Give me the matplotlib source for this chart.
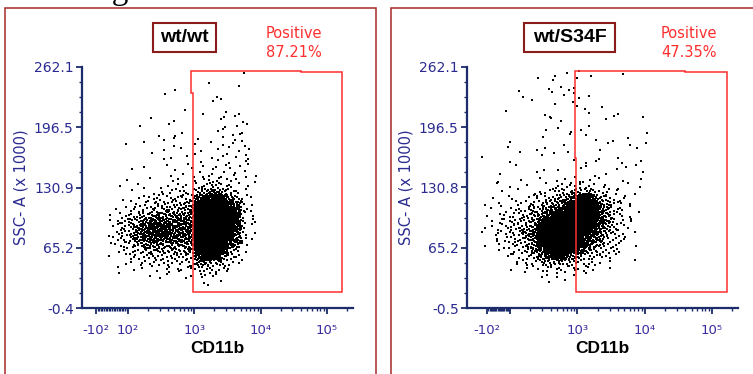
import numpy as np
import matplotlib
matplotlib.use("Agg")
import matplotlib.pyplot as plt
from matplotlib.patches import Rectangle, Polygon

W, H = 753, 374

samples = ["wt/wt", "wt/S34F"]
positive_pct = ["87.21%", "47.35%"]
ssc_min = [-0.4, -0.5]
ssc_max = 262.1
ssc_tick_labels = [["-0.4", "65.2", "130.9", "196.5", "262.1"],
                   ["-0.5", "65.2", "130.8", "196.5", "262.1"]]
cd11b_lim = [(-163, 247700), (-200, 244000)]
cd11b_linscale = [0.218, 0.154]
cd11b_ticks = [-100, 100, 1000, 10000, 100000]
cd11b_tick_labels = [["-10²", "10²", "10³", "10⁴", "10⁵"],
                     ["-10²", "", "10³", "10⁴", "10⁵"]]

# "Positive" gates as (CD11b, SSC) vertices
gate_wt_x = [901, 40400, 40400, 168800, 168800, 966, 966, 901]
gate_wt_y = [257.7, 257.7, 256.7, 256.7, 17.0, 17.0, 233.8, 233.8]
gate_s34f_x = [933, 39500, 39500, 167600, 167600, 966, 966, 933]
gate_s34f_y = [257.7, 257.7, 256.7, 256.7, 17.0, 17.0, 163.3, 163.3]

# dot density: one digit per cell (0 empty .. 9 solid),
# rows run from SSC 260 down to 0 in steps of 6.5
ssc_edges = np.linspace(260, 0, 41)
cd11b_edges_wt = [-23, 18, 59, 100, 126, 158, 200, 251, 316, 398, 501, 631,
                  794, 1000, 1259, 1585, 1995, 2512, 3162, 3981, 5012, 6310,
                  7943, 10000, 12589, 15849, 19953]
cd11b_edges_s34f = [-132, -74, -16, 42, 100, 126, 158, 200, 251, 316, 398,
                    501, 631, 794, 1000, 1259, 1585, 1995, 2512, 3162, 3981,
                    5012, 6310, 7943, 10000, 12589, 15849]
events_per_level = [0, 1, 2, 3, 5, 8, 12, 18, 28, 45]

density_wt = [
    "00000000000000000000100000",
    "00000000000000000000000000",
    "00000000000000010001000000",
    "00000000001000000000000000",
    "00000000100000001000000000",
    "00000000000000010100000000",
    "00000000000100000000000000",
    "00000000000000100102000000",
    "00000010010000000200100000",
    "00001000010000000101100000",
    "00000000000100001101100000",
    "00000001111001000111000000",
    "00100100010001010110200000",
    "00000000101000101011010000",
    "00000010010101010201100000",
    "00000000100100101010110000",
    "00010100101010111111010000",
    "00000000010101020111101000",
    "00100010011011222211101000",
    "01001001011202333221010000",
    "00010110122223455432100000",
    "00101122223335788753210000",
    "00012223333448999975210000",
    "01122333444459999987310000",
    "11233455555559999987310000",
    "12344566666669999997311000",
    "12345677766669999987210000",
    "12345677766669999986201000",
    "12345666666569999976210000",
    "12234555555559999865200000",
    "01223344444448999742100000",
    "10122233333336887532100000",
    "00111222222234544321000000",
    "01010111112223332210000000",
    "01000010110111221000000000",
    "00000001000000101000000000",
    "00000000000000010000000000",
    "00000000000000000000000000",
    "00000000000000000000000000",
    "00000000000000000000000000",
]

density_s34f = [
    "00000000000010100000100000",
    "00000000102001001000000000",
    "00000000000100000000000000",
    "00000100011011000000000000",
    "00000100000011110000000000",
    "00000001001001000000000000",
    "00000000000001010100000000",
    "00010000020000010002000000",
    "00000000001100000010000100",
    "00000000000100010000000000",
    "00000000010011100000000010",
    "00000000100000011000010000",
    "00010000000010000011010010",
    "00010101010010000100001000",
    "10000000101000000001000000",
    "00001000000001011100100100",
    "00001000010000110001011000",
    "00100001000100001010000100",
    "00100100101011110100100100",
    "01001010011222221110010100",
    "00100101122334443221101000",
    "01011012233456886432110000",
    "10101223345568998543210000",
    "01112234456789998643210100",
    "10122334568899998653210000",
    "01223345689999998653211000",
    "11223445799999997643210000",
    "11223456899999987543201000",
    "01123346899999876532210000",
    "10122345799999865432101000",
    "00112235689997654322100000",
    "00011223567765433221001000",
    "00001122344443322110000000",
    "00001011222222211010000000",
    "00000010111101010000000000",
    "00000000010010000000000000",
    "00000000000000000000000000",
    "00000000000000000000000000",
    "00000000000000000000000000",
    "00000000000000000000000000",
]

AXIS = "#1b2b6b"
LABEL = "#2a2a90"
GATE = "#ff2e2e"
FRAME = "#a52a2a"


def halton(i, base):
    f, r = 1.0, 0.0
    while i > 0:
        f /= base
        r += f * (i % base)
        i //= base
    return r


def events(ax, density, xedges, yedges):
    # spread each cell's events evenly over the cell, in axis (scaled) space
    tr = ax.xaxis.get_transform()
    xe = tr.transform(np.asarray(xedges, float))
    xs, ys = [], []
    idx = 0
    for r, row in enumerate(density):
        for c, ch in enumerate(row):
            for k in range(events_per_level[int(ch)]):
                idx += 1
                u, v = halton(idx, 2), halton(idx, 3)
                xs.append(xe[c] + u * (xe[c + 1] - xe[c]))
                ys.append(yedges[r + 1] + v * (yedges[r] - yedges[r + 1]))
    return tr.inverted().transform(np.array(xs)), np.array(ys)


def px_box(x0, x1, ytop, ybot):
    return [x0 / W, 1 - ybot / H, (x1 - x0) / W, (ybot - ytop) / H]


fig = plt.figure(figsize=(W / 100, H / 100), dpi=100)

# cut-off heading from the page above
fig.text(84 / W, 1 + 1 / H, "Figure", family="Liberation Serif", fontsize=24,
         va="baseline", ha="left")

frames = [(5, 376), (391, 770)]
axes_px = [(82, 353), (467, 738)]
title_px = [(153, 216), (524, 615)]
pos_px = [266, 661]
density_all = [density_wt, density_s34f]
edges_all = [cd11b_edges_wt, cd11b_edges_s34f]
gates = [(gate_wt_x, gate_wt_y), (gate_s34f_x, gate_s34f_y)]

minor_x = (list(range(-90, 100, 10)) + list(range(200, 1000, 100))
           + list(range(2000, 10000, 1000)) + list(range(20000, 100000, 10000))
           + [200000])

for i in range(2):
    fx0, fx1 = frames[i]
    fig.add_artist(Rectangle((fx0 / W, -0.05), (fx1 - fx0) / W, 1.05 - 8.5 / H,
                             transform=fig.transFigure, fill=False,
                             edgecolor=FRAME, lw=1.1))
    tx0, tx1 = title_px[i]
    fig.add_artist(Rectangle((tx0 / W, 1 - 52 / H), (tx1 - tx0) / W, 29 / H,
                             transform=fig.transFigure, fill=False,
                             edgecolor="#8b1c1c", lw=1.5))
    fig.text((tx0 + tx1) / 2 / W, 1 - 38 / H, samples[i], ha="center",
             va="center", family="Liberation Sans", weight="bold", fontsize=14)
    fig.text(pos_px[i] / W, 1 - 38 / H, "Positive", color=GATE, fontsize=10.5,
             va="baseline", ha="left")
    fig.text(pos_px[i] / W, 1 - 57 / H, positive_pct[i], color=GATE,
             fontsize=10.5, va="baseline", ha="left")

    ax = fig.add_axes(px_box(axes_px[i][0], axes_px[i][1], 67, 308))
    ax.set_xscale("symlog", linthresh=100, linscale=cd11b_linscale[i])
    ax.set_xlim(*cd11b_lim[i])
    ax.set_ylim(ssc_min[i], ssc_max)

    x, y = events(ax, density_all[i], edges_all[i], ssc_edges)
    ax.scatter(x, y, s=2.4, marker="s", c="black", linewidths=0)

    gx, gy = gates[i]
    ax.add_patch(Polygon(np.column_stack([gx, gy]), closed=True, fill=False,
                         edgecolor=GATE, lw=1.1))

    for side in ["top", "right"]:
        ax.spines[side].set_visible(False)
    for side in ["left", "bottom"]:
        ax.spines[side].set_color(AXIS)
        ax.spines[side].set_linewidth(1.6)

    ax.set_xticks(cd11b_ticks)
    ax.set_xticklabels(cd11b_tick_labels[i])
    ax.set_xticks(minor_x, minor=True)
    ax.set_yticks(np.linspace(ssc_min[i], ssc_max, 5))
    ax.set_yticklabels(ssc_tick_labels[i])
    ax.set_yticks(np.linspace(ssc_min[i], ssc_max, 17), minor=True)
    ax.tick_params(which="major", length=4.5, width=1.3, color=AXIS,
                   labelcolor=LABEL, labelsize=10)
    ax.tick_params(which="minor", length=2.5, width=1.0, color=AXIS)
    ax.tick_params(axis="x", which="major", pad=7, labelsize=9.5,
                   labelcolor="#3a2c9e")
    ax.tick_params(axis="y", which="major", pad=1.5)

    ax.set_xlabel("CD11b", family="Liberation Sans", weight="bold",
                  fontsize=12.5, color="black", labelpad=3)
    ax.set_ylabel("SSC- A (x 1000)", fontsize=10.5, color=LABEL, labelpad=4)

fig.savefig("out.png", dpi=100, facecolor="white")
